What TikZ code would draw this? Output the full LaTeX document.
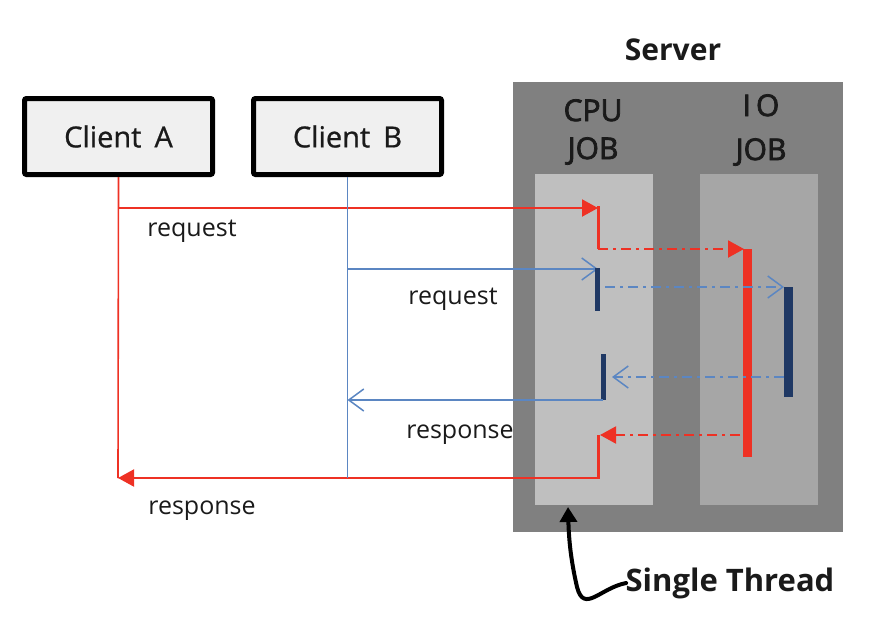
\documentclass[tikz,border=0pt]{standalone}
\usepackage{fontspec}
\setmainfont{Open Sans}
\setsansfont{Open Sans}
\usetikzlibrary{positioning,arrows.meta,calc}
\definecolor{reqred}{HTML}{EE3124}
\definecolor{reqblue}{HTML}{5B86C2}
\definecolor{barnavy}{HTML}{1F3864}
\definecolor{srvgray}{HTML}{808080}
\definecolor{cpugray}{HTML}{BFBFBF}
\definecolor{iogray}{HTML}{A6A6A6}
\definecolor{clientfill}{HTML}{F0F0F0}
\definecolor{inkblack}{HTML}{1A1A1A}

\begin{document}
\begin{tikzpicture}[
    x=1pt, y=-1pt,
    every node/.style={font=\sffamily\fontsize{25}{30}\selectfont, text=inkblack},
    client/.style={
        draw=black, fill=clientfill, rounded corners=2pt,
        minimum width=188pt, minimum height=76pt,
        line width=5pt, inner sep=0pt,
        font=\sffamily\addfontfeatures{FakeBold=0.8}\fontsize{29}{32}\selectfont
    },
    lane/.style={
        fill=#1, draw=none, inner sep=0pt,
        minimum width=118pt, minimum height=331pt
    },
    title/.style={font=\sffamily\bfseries\fontsize{#1}{#1}\selectfont},
    jobtitle/.style={align=center, font=\sffamily\addfontfeatures{FakeBold=2.5}\fontsize{30}{#1}\selectfont},
    lifeline/.style={color=#1, line width=1.6pt},
    callred/.style={reqred, line width=2pt, -{Triangle[length=16pt,width=17pt]}},
    callblue/.style={reqblue, line width=1.5pt, -{Straight Barb[length=15pt,width=22pt,line width=1.5pt]}},
    async/.style={dash pattern=on 10pt off 5pt on 3pt off 5pt},
    bar/.style={line width=#1, line cap=butt},
]
\useasboundingbox (0,0) rectangle (890,616);

% === Server with its two job lanes ===
\node[lane=srvgray, minimum width=330pt, minimum height=450pt] (server) at (678,307) {};
\node[title=30] (servertitle) at (673,50) {Server};
\node[lane=cpugray] (cpu) at (594,339.5) {};
\node[lane=iogray] (io) at (759,339.5) {};
\node[jobtitle=38] (cputitle) at (593,132) {CPU\\JOB};
\node[jobtitle=44] (iotitle) at (761,130) {I\,O\\JOB};

% === Clients ===
\node[client] (clientA) at (118.5,136.5) {Client\hspace{0.45em}A};
\node[client, right=36pt of clientA] (clientB) {Client\hspace{0.45em}B};

% points on the lifelines
\coordinate (reqA) at (118,208);
\coordinate (respA) at (118,478);
\coordinate (reqB) at (clientB.south |- 0,269);
\coordinate (respB) at (clientB.south |- 0,400);
\coordinate (endB) at (clientB.south |- 0,478);

% points in the lanes
\coordinate (cpuA1) at (598,208);
\coordinate (cpuA2) at (598,249);
\coordinate (ioA) at (744,249);
\coordinate (ioAend) at (747,457);
\coordinate (ioAback) at (740,435);
\coordinate (cpuA3) at (598,435);
\coordinate (cpuA4) at (598,478);
\coordinate (cpuB1) at (598,269);
\coordinate (ioB) at (784,287);
\coordinate (ioBback) at (784,377);
\coordinate (cpuB2) at (612,377);
\coordinate (cpuB3) at (603,400);

% === Client A (red) ===
\draw[lifeline=reqred] (clientA.south) -- (respA);
\draw[callred] (reqA) -- (cpuA1);
\draw[reqred, bar=3pt] ([yshift=2pt]cpuA1) -- (cpuA2);
\draw[callred, async] (cpuA2) -- (ioA);
\draw[reqred, bar=9pt] (ioA -| ioAend) -- (ioAend);
\draw[callred, async] (ioAback) -- ([xshift=2pt]cpuA3);
\draw[reqred, bar=3pt] (cpuA3) -- (cpuA4);
\draw[callred] ([xshift=1.5pt]cpuA4) -- (respA);

% === Client B (blue) ===
\draw[lifeline=reqblue] (clientB.south) -- (endB);
\draw[callblue] (reqB) -- (cpuB1);
\draw[barnavy, bar=5pt] (597,268) -- (597,311);
\draw[callblue, async] (605,287) -- (ioB);
\draw[barnavy, bar=9pt] (788,287) -- (788,397);
\draw[callblue, async] (ioBback) -- (cpuB2);
\draw[barnavy, bar=5pt] (603,354) -- (cpuB3);
\draw[callblue] (cpuB3) -- (respB);

% Labels
\node (reqAlabel) at (192,231) {request};
\node (reqBlabel) at (453,299) {request};
\node (respBlabel) at (460,435) {response};
\node (respAlabel) at (202,511) {response};

% === Single thread note ===
\node[title=31] (thread) at (730,583) {Single Thread};
\coordinate (threadtip) at (568,507);
\draw[line width=4pt, line cap=round, -{Triangle[length=15pt,width=17pt]}]
    ([xshift=4pt]thread.west) .. controls (600,588) and (584,614) .. (577,587)
    .. controls (572,565) and (569,545) .. (threadtip);

\end{tikzpicture}
\end{document}
